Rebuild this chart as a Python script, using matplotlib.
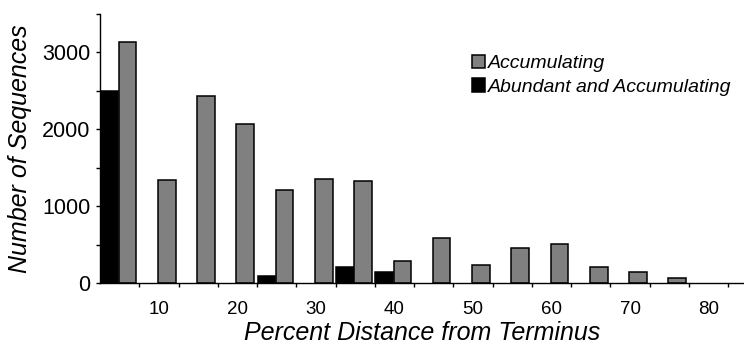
import numpy as np
import matplotlib
matplotlib.use("Agg")
import matplotlib.pyplot as plt
from matplotlib.patches import Patch

# bins of 5 % distance from terminus
bins = [5, 10, 15, 20, 25, 30, 35, 40, 45, 50, 55, 60, 65, 70, 75, 80]
accumulating = [3130, 1340, 2430, 2065, 1210, 1350, 1325, 285,
                585, 235, 455, 505, 215, 150, 70, 0]
abundant = [2500, 0, 0, 0, 100, 0, 210, 150,
            0, 0, 0, 0, 0, 0, 0, 0]
tick_labels = ["10", "20", "30", "40", "50", "60", "70", "80"]

plt.rcParams['font.family'] = ['Liberation Sans', 'DejaVu Sans']

fig = plt.figure(figsize=(7.44, 3.47), dpi=100)
ax = fig.add_axes([100 / 744, 1 - 283.3 / 347, 1 - 100 / 744, 269.3 / 347])

x = np.arange(len(bins))
acc = np.array(accumulating)
abd = np.array(abundant)
w = 0.45
# empty bins get no bar at all
ax.bar(x[abd > 0] - 0.26, abd[abd > 0], w, color='black', edgecolor='black', linewidth=1.1)
ax.bar(x[acc > 0] + 0.2, acc[acc > 0], w, color='#808080', edgecolor='black', linewidth=1.1)

ax.set_xlim(-0.5, 15.9)
ax.set_ylim(0, 3500)

for s in ['top', 'right']:
    ax.spines[s].set_visible(False)
for s in ['left', 'bottom']:
    ax.spines[s].set_linewidth(1.0)

# labels under every second bin, small ticks at bin boundaries
ax.set_xticks(x[1::2])
ax.set_xticklabels(tick_labels, fontsize=13.5)
ax.set_xticks(np.arange(16) + 0.5, minor=True)
ax.tick_params(axis='x', which='major', length=0, pad=13)
ax.tick_params(axis='x', which='minor', length=3, width=1, direction='out')

ax.set_yticks([0, 1000, 2000, 3000])
ax.set_yticks(np.arange(0, 3501, 500), minor=True)
ax.tick_params(axis='y', which='both', length=3, width=1, direction='out', pad=4)
ax.tick_params(axis='y', labelsize=15.5)

ax.set_xlabel('Percent Distance from Terminus', fontsize=18, style='italic', labelpad=2)
ax.set_ylabel('Number of Sequences', fontsize=18, style='italic', labelpad=7)

handles = [Patch(facecolor='#808080', edgecolor='black', linewidth=1.1, label='Accumulating'),
           Patch(facecolor='black', edgecolor='black', linewidth=1.1, label='Abundant and Accumulating')]
leg = ax.legend(handles=handles, loc='upper left', bbox_to_anchor=(462 / 744, 1 - 45 / 347),
                bbox_transform=fig.transFigure, frameon=False, borderpad=0,
                handlelength=0.7, handleheight=0.7, handletextpad=0.15,
                labelspacing=0.3, prop={'size': 14, 'style': 'italic'})

fig.savefig('out.png', dpi=100)
